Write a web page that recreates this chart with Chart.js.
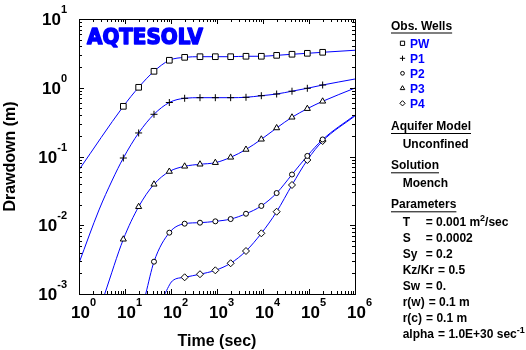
<!DOCTYPE html>
<html>
<head>
<meta charset="utf-8">
<script src="https://cdn.jsdelivr.net/npm/chart.js@4.4.1/dist/chart.umd.min.js"></script>
<style>
  html, body { margin: 0; padding: 0; background: #fff; }
</style>
</head>
<body>
<canvas id="drawdownChart" width="526" height="350"></canvas>
<script>
// observation times (sec) where the well symbols sit
var obsTime = [9.2, 19.8, 42.7, 92, 198, 427, 920, 1980, 4270, 9200, 19800, 42700, 92000, 198000];

// observed drawdown (m)
var obsPW = [0.537, 1.015, 1.735, 2.51, 2.77, 2.83, 2.83, 2.83, 2.87, 2.87, 2.96, 3.07, 3.17, 3.28];
var obsP1 = [0.0951, 0.220, 0.411, 0.610, 0.703, 0.717, 0.717, 0.717, 0.726, 0.766, 0.811, 0.891, 0.982, 1.096];
var obsP2 = [null, null, 0.00295, 0.0078, 0.01054, 0.0109, 0.0114, 0.0123, 0.0147, 0.0191, 0.0294, 0.0547, 0.102, 0.177];
var obsP3 = [0.00625, 0.0186, 0.0394, 0.0605, 0.0720, 0.0771, 0.0813, 0.0973, 0.1265, 0.178, 0.260, 0.372, 0.496, 0.635];
var obsP4 = [null, null, null, null, 0.00175, 0.00194, 0.00221, 0.0028, 0.00422, 0.00763, 0.01574, 0.0385, 0.0889, 0.168];

// fitted Moench type curves
var fitTimePW = [1, 9.2, 19.8, 42.7, 92, 198, 427, 920, 1980, 4270, 9200, 19800, 42700, 92000, 198000, 1000000];
var fitPW = [0.064, 0.537, 1.015, 1.735, 2.51, 2.77, 2.83, 2.83, 2.83, 2.87, 2.87, 2.96, 3.07, 3.17, 3.28, 3.51];
var fitTimeP1 = [1, 2.72, 5.3, 9.2, 19.8, 42.7, 92, 198, 427, 920, 1980, 4270, 9200, 19800, 42700, 92000, 198000, 1000000];
var fitP1 = [0.00282, 0.0167, 0.0455, 0.0951, 0.220, 0.411, 0.610, 0.703, 0.717, 0.717, 0.717, 0.726, 0.766, 0.811, 0.891, 0.982, 1.096, 1.34];
var fitTimeP2 = [28.2, 42.7, 92, 198, 427, 920, 1980, 4270, 9200, 19800, 42700, 92000, 198000, 1000000];
var fitP2 = [0.001, 0.00295, 0.0078, 0.01054, 0.0109, 0.0114, 0.0123, 0.0147, 0.0191, 0.0294, 0.0547, 0.102, 0.177, 0.40];
var fitTimeP3 = [3.62, 9.2, 19.8, 42.7, 92, 198, 427, 920, 1980, 4270, 9200, 19800, 42700, 92000, 198000, 1000000];
var fitP3 = [0.001, 0.00625, 0.0186, 0.0394, 0.0605, 0.0720, 0.0771, 0.0813, 0.0973, 0.1265, 0.178, 0.260, 0.372, 0.496, 0.635, 0.99];
var fitTimeP4 = [73, 107, 198, 427, 920, 1980, 4270, 9200, 19800, 42700, 92000, 198000, 1000000];
var fitP4 = [0.001, 0.00155, 0.00175, 0.00194, 0.00221, 0.0028, 0.00422, 0.00763, 0.01574, 0.0385, 0.0889, 0.168, 0.39];

var wellNames = ['PW', 'P1', 'P2', 'P3', 'P4'];
var wellSymbols = ['rect', 'cross', 'circle', 'triangle', 'rectRot'];
var symbolSize = [4, 3.5, 2.5, 3.5, 3.5];

var xTickLabels = ['0', '1', '2', '3', '4', '5', '6'];   // exponents of 10
var yTickLabels = ['-3', '-2', '-1', '0', '1'];

var paramNames = ['T', 'S', 'Sy', 'Kz/Kr', 'Sw', 'r(w)', 'r(c)', 'alpha'];
var paramValues = [['= 0.001 m', '2', '/sec'], ['= 0.0002'], ['= 0.2'], ['= 0.5'], ['= 0.'], ['= 0.1 m'], ['= 0.1 m'], ['= 1.0E+30 sec', '-1']];

var BLUE = '#0000ff';
var FONT = '"Liberation Sans", Arial, sans-serif';

function pts(t, v) {
    var out = [];
    for (var i = 0; i < t.length; i++) {
        if (v[i] != null) out.push({ x: t[i], y: v[i] });
    }
    return out;
}

var obsSets = [obsPW, obsP1, obsP2, obsP3, obsP4];
var fitSets = [[fitTimePW, fitPW], [fitTimeP1, fitP1], [fitTimeP2, fitP2], [fitTimeP3, fitP3], [fitTimeP4, fitP4]];

var datasets = [];
for (var i = 0; i < wellNames.length; i++) {
    datasets.push({
        label: wellNames[i],
        data: pts(obsTime, obsSets[i]),
        showLine: false,
        pointStyle: wellSymbols[i],
        pointRadius: symbolSize[i],
        pointBorderColor: '#000',
        pointBackgroundColor: '#fff',
        pointBorderWidth: 1,
        order: 0
    });
    datasets.push({
        label: wellNames[i] + ' fit',
        data: pts(fitSets[i][0], fitSets[i][1]),
        showLine: true,
        borderColor: BLUE,
        borderWidth: 1,
        pointRadius: 0,
        cubicInterpolationMode: 'monotone',
        order: 1
    });
}

function logTicks(min, max) {
    var list = [];
    for (var e = Math.round(Math.log10(min)); e < Math.round(Math.log10(max)); e++) {
        for (var m = 1; m <= 9; m++) list.push({ v: m * Math.pow(10, e), major: m === 1 });
    }
    list.push({ v: max, major: true });
    return list;
}

function power(ctx, exp, x, y, align, big, small) {
    // draws "10" with a raised exponent; x is anchor of the "10" part
    ctx.font = 'bold ' + big + 'px ' + FONT;
    var w1 = ctx.measureText('10').width;
    ctx.font = 'bold ' + small + 'px ' + FONT;
    var w2 = ctx.measureText(exp).width;
    var x0;
    if (align === 'right') x0 = x - w1 - w2;
    else x0 = x - w1 / 2;
    ctx.font = 'bold ' + big + 'px ' + FONT;
    ctx.fillText('10', x0, y);
    ctx.font = 'bold ' + small + 'px ' + FONT;
    ctx.fillText(exp, x0 + w1, y - 12);
}

var decorations = {
    id: 'decorations',
    afterDatasetsDraw: function (chart) {
        var ctx = chart.ctx;
        var a = chart.chartArea;
        var xs = chart.scales.x, ys = chart.scales.y;
        ctx.save();

        // frame
        ctx.strokeStyle = '#000';
        ctx.lineWidth = 1;
        ctx.strokeRect(a.left + 0.5, a.top + 0.5, a.right - a.left, a.bottom - a.top);

        // inside ticks on all four sides
        ctx.beginPath();
        logTicks(xs.min, xs.max).forEach(function (t) {
            var px = Math.round(xs.getPixelForValue(t.v)) + 0.5;
            var len = t.major ? 5 : 3;
            ctx.moveTo(px, a.bottom); ctx.lineTo(px, a.bottom - len);
            ctx.moveTo(px, a.top); ctx.lineTo(px, a.top + len);
        });
        logTicks(ys.min, ys.max).forEach(function (t) {
            var py = Math.round(ys.getPixelForValue(t.v)) + 0.5;
            var len = t.major ? 5 : 3;
            ctx.moveTo(a.left, py); ctx.lineTo(a.left + len, py);
            ctx.moveTo(a.right, py); ctx.lineTo(a.right - len, py);
        });
        ctx.stroke();

        // tick labels
        ctx.fillStyle = '#000';
        ctx.textAlign = 'left';
        ctx.textBaseline = 'alphabetic';
        xTickLabels.forEach(function (e) {
            var px = xs.getPixelForValue(Math.pow(10, +e));
            power(ctx, e, px + 1.5, 318, 'center', 17, 11);
        });
        yTickLabels.forEach(function (e) {
            var py = ys.getPixelForValue(Math.pow(10, +e));
            power(ctx, e, 67, py + 6, 'right', 17, 11);
        });

        // axis titles
        ctx.font = 'bold 16px ' + FONT;
        ctx.textAlign = 'center';
        ctx.fillText('Time (sec)', (a.left + a.right) / 2, 346);
        ctx.save();
        ctx.translate(15, (a.top + a.bottom) / 2);
        ctx.rotate(-Math.PI / 2);
        ctx.fillText('Drawdown (m)', 0, 0);
        ctx.restore();

        // logo
        ctx.save();
        ctx.font = 'bold 22px "DejaVu Sans", sans-serif';
        ctx.textAlign = 'left';
        var lw = ctx.measureText('AQTESOLV').width;
        ctx.translate(87, 44);
        ctx.scale(116 / lw, 1);
        ctx.fillStyle = BLUE;
        ctx.strokeStyle = BLUE;
        ctx.lineWidth = 1.6;
        ctx.lineJoin = 'round';
        ctx.fillText('AQTESOLV', 0, 0);
        ctx.strokeText('AQTESOLV', 0, 0);
        ctx.restore();

        drawPanel(ctx);
        ctx.restore();
    }
};

function header(ctx, txt, x, y) {
    ctx.fillStyle = '#000';
    ctx.font = 'bold 12px ' + FONT;
    ctx.fillText(txt, x, y);
    ctx.fillRect(x, y + 3, ctx.measureText(txt).width, 1);
}

function drawPanel(ctx) {
    ctx.textAlign = 'left';
    ctx.textBaseline = 'alphabetic';
    header(ctx, 'Obs. Wells', 391, 29.5);
    for (var i = 0; i < wellNames.length; i++) {
        var cy = 43.3 + i * 15;
        ctx.strokeStyle = '#000';
        ctx.fillStyle = '#fff';
        Chart.helpers.drawPoint(ctx, { pointStyle: wellSymbols[i], radius: symbolSize[i] * 0.75, rotation: 0, borderWidth: 1 }, 402.5, cy);
        ctx.fillStyle = BLUE;
        ctx.font = 'bold 12px ' + FONT;
        ctx.fillText(wellNames[i], 410, cy + 4.3);
    }
    header(ctx, 'Aquifer Model', 391, 130);
    ctx.fillStyle = '#000';
    ctx.fillText('Unconfined', 402.7, 147.7);
    header(ctx, 'Solution', 391, 169.3);
    ctx.fillStyle = '#000';
    ctx.fillText('Moench', 402.7, 187.3);
    header(ctx, 'Parameters', 391, 208.3);
    ctx.fillStyle = '#000';
    for (var j = 0; j < paramNames.length; j++) {
        var by = 226 + j * 16;
        ctx.font = 'bold 12px ' + FONT;
        ctx.fillText(paramNames[j], 402.7, by);
        var x = Math.max(425.7, 402.7 + ctx.measureText(paramNames[j]).width + 4);
        var parts = paramValues[j];
        for (var k = 0; k < parts.length; k++) {
            var sup = (k === 1);
            ctx.font = 'bold ' + (sup ? 9 : 12) + 'px ' + FONT;
            ctx.fillText(parts[k], x, sup ? by - 5 : by);
            x += ctx.measureText(parts[k]).width;
        }
    }
}

var ctx = document.getElementById('drawdownChart').getContext('2d');
var myChart = new Chart(ctx, {
    type: 'scatter',
    data: { datasets: datasets },
    options: {
        responsive: false,
        animation: false,
        events: [],
        layout: { padding: { left: 79, top: 19, right: 171, bottom: 56 } },
        plugins: { legend: { display: false }, tooltip: { enabled: false } },
        scales: {
            x: { type: 'logarithmic', min: 1, max: 1000000, display: false },
            y: { type: 'logarithmic', min: 0.001, max: 10, display: false }
        }
    },
    plugins: [decorations]
});
</script>
</body>
</html>
